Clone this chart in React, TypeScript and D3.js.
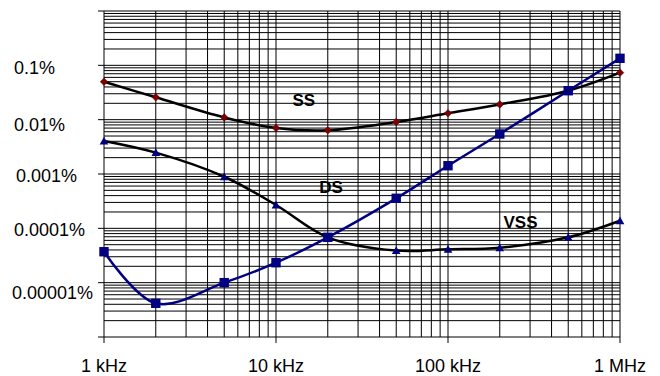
import React from "react";
import * as d3 from "d3";

// frequencies (Hz)
const freqs = [1e3, 2e3, 5e3, 1e4, 2e4, 5e4, 1e5, 2e5, 5e5, 1e6];
// values in percent
const ssValues = [0.05, 0.0258, 0.011, 0.00703, 0.00637, 0.00906, 0.0131, 0.0191, 0.0341, 0.0733];
const dsTriValues = [0.00405, 0.00247, 0.00089, 0.000269, 0.0000683, 0.0000389, 0.000041, 0.000044, 0.0000683, 0.000138];
const sqValues = [0.0000371, 0.00000417, 0.00001, 0.0000233, 0.0000683, 0.000357, 0.00142, 0.00545, 0.0341, 0.1346];

const yTickValues = [1e-6, 1e-5, 1e-4, 1e-3, 1e-2, 1e-1, 1];
const yLabelValues = [1e-1, 1e-2, 1e-3, 1e-4, 1e-5];
const yLabelTexts = ["0.1%", "0.01%", "0.001%", "0.0001%", "0.00001%"];
const yLabelNudge = [
  { dx: 14, dy: 8.7 },
  { dx: 14, dy: 11 },
  { dx: 16, dy: 8.4 },
  { dx: 14, dy: 7.7 },
  { dx: 12, dy: 16 },
];
const xTickValues = [1e3, 1e4, 1e5, 1e6];
const xTickLabels = ["1 kHz", "10 kHz", "100 kHz", "1 MHz"];

const seriesLabels = [
  { text: "SS", f: 14500, v: 0.018 },
  { text: "DS", f: 20900, v: 0.000447 },
  { text: "VSS", f: 264000, v: 0.000101 },
];

const W = 660;
const H = 376;
const left = 104;
const right = 620;
const top = 11;
const bottom = 337;

export default function App() {
  const x = d3.scaleLog().domain([1e3, 1e6]).range([left, right]);
  const y = d3.scaleLog().domain([1e-6, 1]).range([bottom, top]);

  const vGrid: number[] = [];
  for (let e = 3; e < 6; e++) for (let m = 1; m <= 9; m++) vGrid.push(m * Math.pow(10, e));
  vGrid.push(1e6);
  const hGrid: number[] = [];
  for (let e = -6; e < 0; e++) for (let m = 1; m <= 9; m++) hGrid.push(m * Math.pow(10, e));
  hGrid.push(1);

  const line = d3
    .line<number>()
    .x((_, i) => x(freqs[i]))
    .y((d) => y(d))
    .curve(d3.curveCatmullRom.alpha(0.5));

  const font = "'Liberation Sans', Arial, sans-serif";
  const navy = "#000080";

  return (
    <svg width={W} height={H} style={{ position: "absolute", left: 0, top: 0, background: "#fff" }} fontFamily={font}>
      <rect x={0} y={0} width={W} height={H} fill="#fff" />
      <g stroke="#000" strokeWidth={1}>
        {vGrid.map((f, i) => (
          <line key={"v" + i} x1={x(f)} x2={x(f)} y1={top} y2={bottom} />
        ))}
        {hGrid.map((v, i) => (
          <line key={"h" + i} x1={left} x2={right} y1={y(v)} y2={y(v)} />
        ))}
        {yTickValues.map((v, i) => (
          <line key={"yt" + i} x1={left - 6} x2={left} y1={y(v)} y2={y(v)} />
        ))}
        {xTickValues.map((f, i) => (
          <line key={"xt" + i} x1={x(f)} x2={x(f)} y1={bottom} y2={bottom + 6} />
        ))}
      </g>
      {yLabelValues.map((v, i) => (
        <text key={"yl" + i} x={yLabelNudge[i].dx} y={y(v) + yLabelNudge[i].dy} fontSize={18} fill="#000">
          {yLabelTexts[i]}
        </text>
      ))}
      {xTickValues.map((f, i) => (
        <text key={"xl" + i} x={x(f)} y={372} fontSize={18} textAnchor="middle" fill="#000">
          {xTickLabels[i]}
        </text>
      ))}

      {/* SS series */}
      <path d={line(ssValues) || ""} fill="none" stroke="#000" strokeWidth={2.5} />
      {ssValues.map((v, i) => {
        const cx = x(freqs[i]);
        const cy = y(v);
        const r = 3.8;
        return (
          <path
            key={"ss" + i}
            d={`M${cx},${cy - r}L${cx + r},${cy}L${cx},${cy + r}L${cx - r},${cy}Z`}
            fill="#800000"
            stroke="#400000"
            strokeWidth={0.5}
          />
        );
      })}

      {/* triangle series */}
      <path d={line(dsTriValues) || ""} fill="none" stroke="#000" strokeWidth={2.5} />
      {dsTriValues.map((v, i) => {
        const cx = x(freqs[i]);
        const cy = y(v);
        const s = 4.3;
        return (
          <path
            key={"tr" + i}
            d={`M${cx},${cy - s}L${cx + s},${cy + s * 0.8}L${cx - s},${cy + s * 0.8}Z`}
            fill={navy}
          />
        );
      })}

      {/* square series */}
      <path d={line(sqValues) || ""} fill="none" stroke={navy} strokeWidth={2.5} />
      {sqValues.map((v, i) => {
        const cx = x(freqs[i]);
        const cy = y(v);
        const s = 4.7;
        return <rect key={"sq" + i} x={cx - s} y={cy - s} width={2 * s} height={2 * s} fill={navy} />;
      })}

      {seriesLabels.map((l, i) => (
        <text key={"sl" + i} x={x(l.f)} y={y(l.v)} fontSize={17} fontWeight="bold" textAnchor="middle" fill="#000">
          {l.text}
        </text>
      ))}
    </svg>
  );
}
